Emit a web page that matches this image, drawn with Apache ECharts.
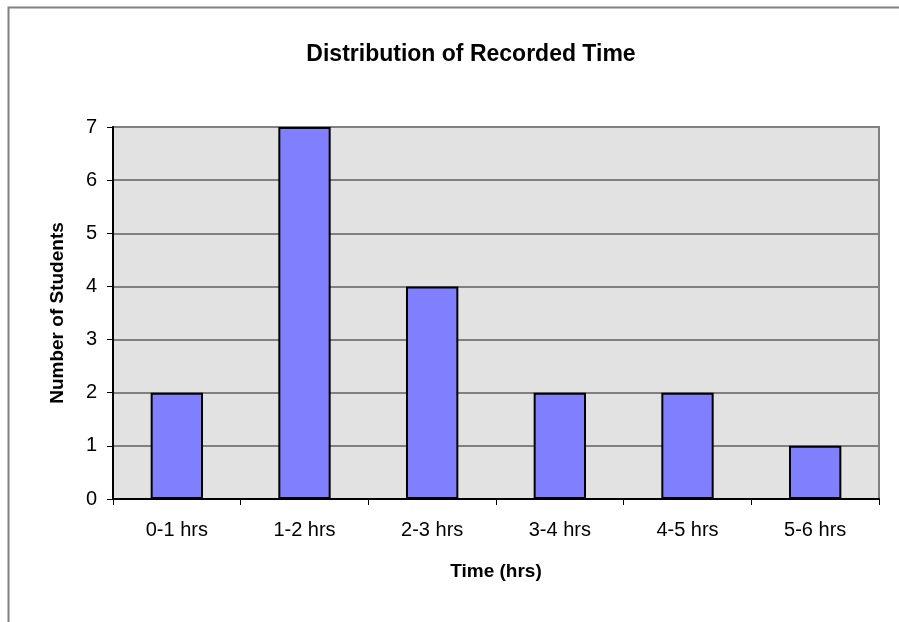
<!DOCTYPE html>
<html>
<head>
<meta charset="utf-8">
<script src="https://cdn.jsdelivr.net/npm/echarts@6/dist/echarts.min.js"></script>
<style>
  html, body { margin: 0; padding: 0; background: #fff; }
  #chart { width: 899px; height: 622px; }
</style>
</head>
<body>
<div id="chart"></div>
<script>
// data
const categories = ['0-1 hrs', '1-2 hrs', '2-3 hrs', '3-4 hrs', '4-5 hrs', '5-6 hrs']
const students = [2, 7, 4, 2, 2, 1]
const yTicks = [0, 1, 2, 3, 4, 5, 6, 7]

const chart = echarts.init(document.getElementById('chart'))
const font = 'Arial, "Liberation Sans", sans-serif'

const option = {
  backgroundColor: '#fff',
  animation: false,
  title: {
    text: 'Distribution of Recorded Time',
    left: 466,
    top: 38,
    textAlign: 'center',
    textStyle: { color: '#000', fontSize: 23, fontWeight: 'bold', fontFamily: font }
  },
  graphic: [
    {
      // outer chart-area frame (runs off the right and bottom edges)
      type: 'rect',
      left: 6,
      top: 5,
      shape: { width: 1000, height: 1000 },
      style: { fill: 'none', stroke: '#808080', lineWidth: 2 },
      silent: true
    }
  ],
  grid: {
    left: 113,
    right: 20,
    top: 127,
    bottom: 123,
    show: true,
    backgroundColor: '#E2E2E2',
    borderColor: '#808080',
    borderWidth: 2
  },
  xAxis: {
    type: 'category',
    data: categories,
    name: 'Time (hrs)',
    nameLocation: 'middle',
    nameGap: 63,
    nameTextStyle: { color: '#000', fontSize: 19, fontWeight: 'bold', fontFamily: font },
    axisLine: { lineStyle: { color: '#000', width: 2 } },
    axisTick: { show: true, length: 6, lineStyle: { color: '#000' } },
    axisLabel: { color: '#000', fontSize: 20, fontFamily: font, margin: 21, interval: 0 }
  },
  yAxis: {
    type: 'value',
    min: yTicks[0],
    max: yTicks[yTicks.length - 1],
    interval: 1,
    name: 'Number of Students',
    nameLocation: 'middle',
    nameGap: 46,
    nameTextStyle: { color: '#000', fontSize: 19, fontWeight: 'bold', fontFamily: font },
    axisLine: { show: true, lineStyle: { color: '#000', width: 2 } },
    axisTick: { show: true, length: 6, lineStyle: { color: '#000' } },
    axisLabel: { color: '#000', fontSize: 20, fontFamily: font, margin: 16 },
    splitLine: { show: true, lineStyle: { color: '#808080', width: 2 } }
  },
  series: [
    {
      name: 'Number of Students',
      type: 'bar',
      data: students,
      barWidth: '41%',
      itemStyle: { color: '#8080FF', borderColor: '#000', borderWidth: 2 }
    }
  ]
}

chart.setOption(option)
</script>
</body>
</html>
